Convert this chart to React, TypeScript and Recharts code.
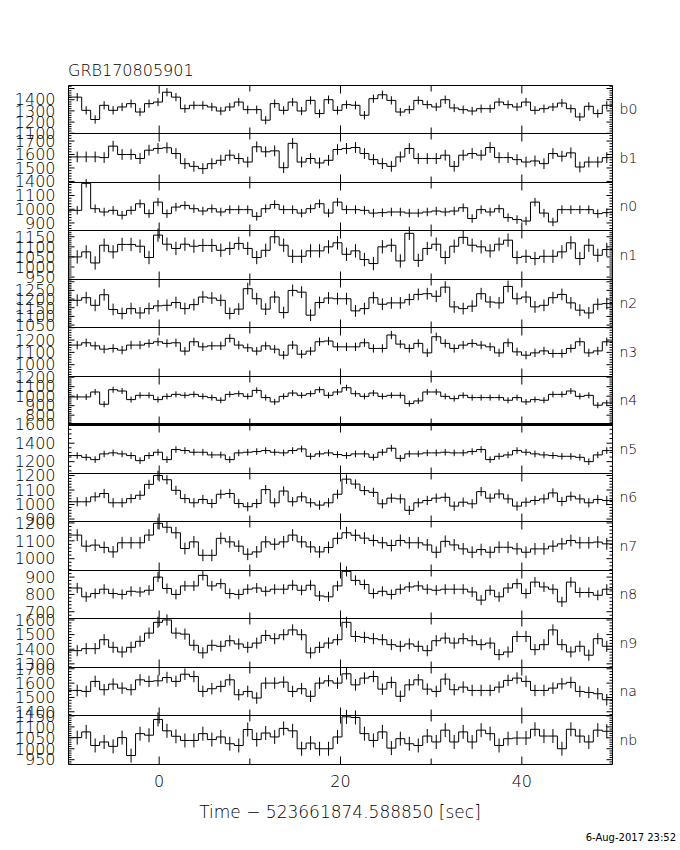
import React from 'react';
import { LineChart, Line, XAxis, YAxis, ErrorBar, ReferenceLine } from 'recharts';

const TITLE = 'GRB170805901';
const X_TITLE = 'Time − 523661874.588850 [sec]';
const DATE_STAMP = '6-Aug-2017 23:52';

// bin centres: first bin and width
const FIRST_BIN = -9.04;
const BIN_WIDTH = 0.99;
const X_DOMAIN = [-10, 50];
const X_TICKS = [-10, 0, 10, 20, 30, 40, 50];
const X_LABELS = [0, 20, 40];

const b0 = [1423, 1305, 1223, 1350, 1305, 1335, 1365, 1290, 1365, 1379, 1467, 1423, 1320, 1350, 1350, 1335, 1299, 1335, 1379, 1311, 1311, 1217, 1365, 1305, 1379, 1299, 1394, 1276, 1400, 1305,
  1356, 1350, 1261, 1409, 1444, 1394, 1290, 1311, 1394, 1356, 1335, 1400, 1326, 1311, 1299, 1320, 1320, 1379, 1356, 1335, 1379, 1305, 1320, 1335, 1370, 1320, 1246, 1341, 1276, 1350];
const b1 = [1582, 1582, 1582, 1577, 1662, 1600, 1600, 1570, 1632, 1645, 1650, 1607, 1532, 1512, 1495, 1532, 1557, 1595, 1570, 1544, 1657, 1620, 1627, 1502, 1683, 1544, 1570, 1537, 1557, 1637,
  1645, 1652, 1607, 1562, 1532, 1512, 1582, 1645, 1570, 1570, 1570, 1595, 1512, 1595, 1607, 1595, 1652, 1577, 1577, 1562, 1544, 1552, 1532, 1607, 1587, 1612, 1507, 1544, 1544, 1577];
const n0 = [992, 1189, 1004, 980, 992, 956, 992, 1040, 968, 1052, 968, 1016, 1028, 1004, 987, 1004, 980, 997, 997, 997, 948, 1004, 1035, 997, 997, 972, 1004, 1040, 972, 1052,
  997, 997, 992, 972, 975, 980, 980, 972, 972, 980, 987, 980, 987, 1011, 932, 997, 980, 1004, 939, 925, 914, 1052, 972, 907, 997, 997, 997, 997, 968, 975];
const n1 = [1050, 1075, 1020, 1108, 1075, 1112, 1112, 1103, 1047, 1158, 1113, 1092, 1113, 1103, 1107, 1107, 1083, 1092, 1117, 1092, 1047, 1083, 1150, 1108, 1053, 1053, 1080, 1080, 1100, 1120,
  1063, 1080, 1037, 1017, 1100, 1108, 1030, 1167, 1033, 1092, 1113, 1047, 1103, 1147, 1108, 1100, 1080, 1113, 1133, 1047, 1053, 1042, 1053, 1053, 1075, 1120, 1042, 1108, 1058, 1087];
const n2 = [1193, 1208, 1164, 1225, 1140, 1117, 1145, 1120, 1145, 1161, 1164, 1180, 1145, 1168, 1212, 1206, 1193, 1117, 1142, 1260, 1202, 1142, 1212, 1122, 1250, 1240, 1107, 1180, 1206, 1202,
  1202, 1132, 1145, 1208, 1170, 1178, 1178, 1197, 1227, 1231, 1216, 1269, 1155, 1145, 1159, 1231, 1183, 1178, 1273, 1202, 1212, 1155, 1164, 1208, 1227, 1178, 1136, 1120, 1170, 1174];
const n3 = [1159, 1178, 1153, 1126, 1132, 1118, 1159, 1159, 1173, 1186, 1173, 1178, 1110, 1186, 1145, 1153, 1153, 1214, 1159, 1137, 1110, 1153, 1126, 1077, 1159, 1085, 1110, 1186, 1192, 1145,
  1145, 1145, 1178, 1132, 1132, 1241, 1167, 1132, 1173, 1096, 1227, 1173, 1132, 1159, 1173, 1159, 1145, 1096, 1178, 1104, 1077, 1096, 1112, 1091, 1091, 1132, 1186, 1096, 1112, 1186];
const n4 = [992, 992, 1044, 915, 1068, 1054, 964, 1009, 1009, 964, 998, 1019, 1009, 1019, 998, 985, 957, 1019, 1026, 998, 1061, 985, 940, 998, 1033, 1009, 1026, 1068, 1009, 1044,
  1089, 1026, 998, 1033, 998, 1009, 1009, 922, 950, 1044, 1044, 998, 974, 1009, 985, 985, 985, 985, 957, 985, 940, 964, 957, 1019, 1019, 1054, 998, 1009, 905, 929];
const n5 = [1266, 1247, 1222, 1284, 1295, 1284, 1266, 1211, 1266, 1302, 1222, 1331, 1320, 1302, 1302, 1273, 1273, 1222, 1295, 1302, 1309, 1320, 1302, 1295, 1320, 1338, 1258, 1284, 1295, 1277,
  1266, 1284, 1284, 1247, 1302, 1345, 1236, 1284, 1284, 1295, 1295, 1302, 1295, 1295, 1309, 1331, 1222, 1258, 1273, 1320, 1302, 1284, 1273, 1266, 1258, 1258, 1247, 1200, 1273, 1320];
const n6 = [1019, 1019, 1053, 1076, 1012, 1012, 1041, 1064, 1139, 1200, 1171, 1098, 1041, 1012, 1035, 1007, 1071, 1076, 1007, 985, 1007, 1103, 1012, 1093, 1019, 1053, 1012, 996, 1012, 1071,
  1175, 1141, 1096, 1084, 1005, 1044, 1039, 960, 1012, 1028, 1044, 1050, 989, 1016, 1005, 1089, 1044, 1073, 1039, 989, 1016, 1028, 1039, 1080, 1021, 1057, 1039, 1012, 1035, 1028];
const n7 = [1132, 1070, 1076, 1063, 1038, 1089, 1089, 1089, 1132, 1198, 1176, 1145, 1057, 1094, 1019, 1019, 1114, 1094, 1070, 1025, 1038, 1094, 1081, 1094, 1132, 1094, 1066, 1038, 1063, 1114,
  1145, 1131, 1115, 1102, 1089, 1074, 1102, 1089, 1089, 1077, 1036, 1097, 1077, 1055, 1036, 1051, 1036, 1064, 1064, 1055, 1036, 1055, 1055, 1070, 1083, 1102, 1089, 1089, 1093, 1083];
const n8 = [837, 786, 805, 830, 805, 800, 818, 814, 824, 900, 834, 800, 849, 849, 910, 849, 862, 805, 800, 830, 837, 818, 830, 830, 853, 824, 853, 791, 786, 849,
  933, 881, 857, 805, 818, 800, 830, 843, 849, 830, 824, 830, 830, 830, 814, 767, 824, 786, 837, 862, 805, 871, 843, 830, 757, 871, 811, 811, 795, 830];
const n9 = [1390, 1404, 1404, 1465, 1413, 1381, 1413, 1454, 1510, 1584, 1600, 1510, 1503, 1427, 1375, 1427, 1420, 1458, 1436, 1413, 1442, 1494, 1472, 1499, 1532, 1499, 1375, 1413, 1442, 1465,
  1584, 1487, 1481, 1472, 1465, 1431, 1420, 1436, 1420, 1390, 1458, 1476, 1442, 1472, 1458, 1431, 1442, 1363, 1381, 1487, 1487, 1397, 1431, 1532, 1431, 1381, 1420, 1359, 1472, 1420];
const na = [1549, 1542, 1612, 1554, 1593, 1565, 1554, 1623, 1612, 1616, 1639, 1612, 1662, 1646, 1542, 1561, 1577, 1623, 1519, 1542, 1496, 1600, 1600, 1607, 1542, 1561, 1508, 1600, 1616, 1600,
  1665, 1588, 1635, 1646, 1558, 1605, 1508, 1588, 1623, 1558, 1542, 1628, 1554, 1572, 1549, 1549, 1549, 1572, 1619, 1635, 1612, 1549, 1549, 1565, 1595, 1605, 1542, 1535, 1526, 1484];
const nb = [1051, 1077, 1015, 1031, 1011, 1051, 969, 1069, 1062, 1134, 1082, 1057, 1038, 1038, 1069, 1042, 1054, 1023, 1015, 1088, 1042, 1072, 1054, 1093, 1082, 1000, 1026, 1000, 1000, 1054,
  1146, 1143, 1069, 1038, 1077, 1003, 1046, 1023, 1015, 1058, 1031, 1085, 1031, 1077, 1031, 1085, 1069, 1015, 1046, 1049, 1049, 1089, 1058, 1058, 1000, 1089, 1058, 1031, 1085, 1080];

// detector, counts, y error, axis range, labelled values, major / minor tick step
const PANELS = [
  { name: 'b0', values: b0, err: 37, domain: [1098, 1527], labels: [1400, 1300, 1200, 1100], major: 100, minor: 20 },
  { name: 'b1', values: b1, err: 40, domain: [1392, 1756], labels: [1700, 1600, 1500, 1400], major: 100, minor: 20 },
  { name: 'n0', values: n0, err: 31, domain: [845, 1195], labels: [1100, 1000, 900], major: 100, minor: 20 },
  { name: 'n1', values: n1, err: 33, domain: [938, 1181], labels: [1150, 1100, 1050, 1000, 950], major: 50, minor: 10 },
  { name: 'n2', values: n2, err: 34, domain: [1036, 1313], labels: [1250, 1200, 1150, 1100, 1050], major: 50, minor: 10 },
  { name: 'n3', values: n3, err: 34, domain: [904, 1302], labels: [1200, 1100, 1000], major: 100, minor: 20 },
  { name: 'n4', values: n4, err: 32, domain: [702, 1207], labels: [1200, 1100, 1000, 900, 800], major: 100, minor: 20 },
  { name: 'n5', values: n5, err: 36, domain: [1072, 1602], labels: [1600, 1400, 1200], major: 200, minor: 50 },
  { name: 'n6', values: n6, err: 32, domain: [883, 1214], labels: [1200, 1100, 1000, 900], major: 100, minor: 20 },
  { name: 'n7', values: n7, err: 33, domain: [934, 1208], labels: [1200, 1100, 1000], major: 100, minor: 20 },
  { name: 'n8', values: n8, err: 29, domain: [661, 938], labels: [900, 800, 700], major: 100, minor: 20 },
  { name: 'n9', values: n9, err: 38, domain: [1275, 1610], labels: [1600, 1500, 1400, 1300], major: 100, minor: 20 },
  { name: 'na', values: na, err: 40, domain: [1374, 1709], labels: [1700, 1600, 1500, 1400], major: 100, minor: 20 },
  { name: 'nb', values: nb, err: 32, domain: [928, 1152], labels: [1150, 1100, 1050, 1000, 950], major: 50, minor: 10 },
];

const FONT = '"DejaVu Sans", sans-serif';
const TOP0 = 85;
const STEP = 48.5;
const PLOT_LEFT = 68.5;
const PLOT_RIGHT = 612.5;
const W = 680;

const edge = (i: number) => Math.floor(TOP0 + STEP * i) + 0.5;

const yTicks = (domain: number[], minor: number) => {
  const out: number[] = [];
  for (let v = Math.ceil(domain[0] / minor) * minor; v <= domain[1]; v += minor) out.push(v);
  return out;
};

const xTick = (plotH: number, withLabels: boolean) => (props: any) => {
  const { x, y, payload } = props;
  const v = payload.value;
  if (v <= X_DOMAIN[0] || v >= X_DOMAIN[1]) return <g />;
  const len = v % 20 === 0 ? 8 : 6;
  return (
    <g>
      <line x1={x} y1={y} x2={x} y2={y - len} stroke="#000" />
      <line x1={x} y1={y - plotH} x2={x} y2={y - plotH + len} stroke="#000" />
      {withLabels && X_LABELS.includes(v) && (
        <text x={x} y={y + 22} textAnchor="middle" fontSize={16} fontWeight={200} fontFamily={FONT} fill="#000">{v}</text>
      )}
    </g>
  );
};

const yTick = (side: 'left' | 'right', major: number, labels: number[]) => (props: any) => {
  const { x, y, payload } = props;
  const v = payload.value;
  const isMajor = v % major === 0;
  const len = isMajor ? 6 : 3;
  const dir = side === 'left' ? 1 : -1;
  return (
    <g>
      <line x1={x} y1={y} x2={x + dir * len} y2={y} stroke="#000" />
      {side === 'left' && labels.includes(v) && (
        <text x={x - 13} y={y} dy="0.36em" textAnchor="end" fontSize={16} fontWeight={200} fontFamily={FONT} fill="#000">{v}</text>
      )}
    </g>
  );
};

const Panel = ({ p, i }: { p: typeof PANELS[number]; i: number }) => {
  const top = edge(i);
  const plotH = edge(i + 1) - top;
  const last = i === PANELS.length - 1;
  const mTop = 10.5;
  const mBottom = last ? 40 : 9.5;
  const rows = [
    { t: X_DOMAIN[0], v: p.values[0] },
    ...p.values.map((v, k) => ({ t: FIRST_BIN + k * BIN_WIDTH, v, e: p.err })),
    { t: X_DOMAIN[1], v: p.values[p.values.length - 1] },
  ];
  const ticks = yTicks(p.domain, p.minor);
  return (
    <div style={{ position: 'absolute', left: 0, top: top - mTop }}>
      <LineChart width={W} height={plotH + mTop + mBottom + 1} data={rows}
        margin={{ top: mTop, bottom: mBottom, left: PLOT_LEFT - 60, right: W - PLOT_RIGHT - 1 }}>
        <XAxis xAxisId="x" dataKey="t" type="number" domain={X_DOMAIN} allowDataOverflow
          ticks={X_TICKS} interval={0} height={1} tickSize={0} tickMargin={0}
          axisLine={{ stroke: '#000' }} tickLine={false} tick={xTick(plotH, last)} />
        <YAxis yAxisId="l" orientation="left" type="number" domain={p.domain} allowDataOverflow
          ticks={ticks} interval={0} width={60} tickSize={0} tickMargin={0}
          axisLine={{ stroke: '#000' }} tickLine={false} tick={yTick('left', p.major, p.labels)} />
        <YAxis yAxisId="r" orientation="right" type="number" domain={p.domain} allowDataOverflow
          ticks={ticks} interval={0} width={1} tickSize={0} tickMargin={0}
          axisLine={{ stroke: '#000' }} tickLine={false} tick={yTick('right', p.major, p.labels)}
          label={{ value: p.name, position: 'right', offset: 6, fill: '#000', fontSize: 14, fontWeight: 200, fontFamily: FONT }} />
        <ReferenceLine xAxisId="x" yAxisId="l" y={p.domain[1]} stroke="#000" strokeWidth={p.name === 'n5' ? 3 : 1} />
        <Line xAxisId="x" yAxisId="l" type="step" dataKey="v" stroke="#000" strokeWidth={1}
          dot={false} activeDot={false} isAnimationActive={false}>
          <ErrorBar dataKey="e" direction="y" width={0} stroke="#000" strokeWidth={1} />
        </Line>
      </LineChart>
    </div>
  );
};

export default function App() {
  return (
    <div style={{ position: 'absolute', left: 0, top: 0, width: W, height: 850, background: '#fff' }}>
      <svg width={W} height={850} style={{ position: 'absolute', left: 0, top: 0 }}>
        <text x={68} y={76} fontSize={16} fontWeight={200} fontFamily={FONT} fill="#000">{TITLE}</text>
        <text x={340} y={818} fontSize={17} fontWeight={200} textAnchor="middle" fontFamily={FONT} fill="#000">{X_TITLE}</text>
        <text x={676} y={841} fontSize={10} textAnchor="end" fontFamily={FONT} fill="#000">{DATE_STAMP}</text>
      </svg>
      {PANELS.map((p, i) => <Panel key={p.name} p={p} i={i} />)}
    </div>
  );
}
